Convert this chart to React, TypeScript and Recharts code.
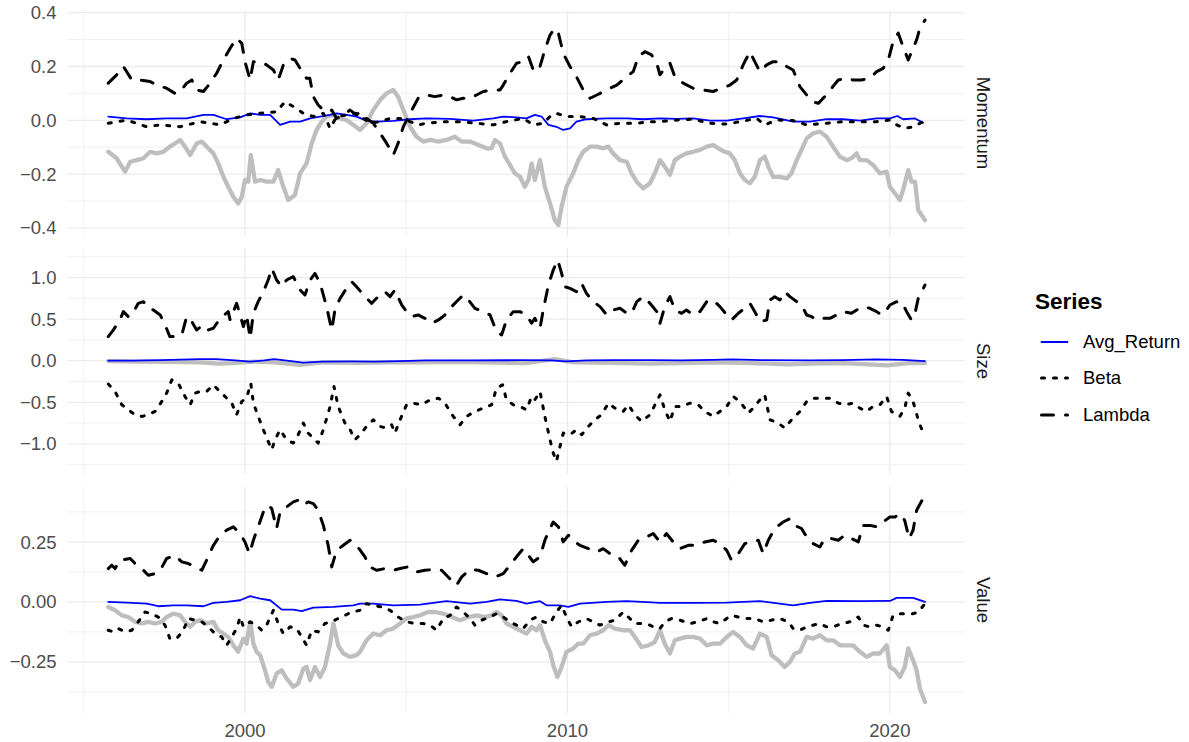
import { LineChart, Line, XAxis, YAxis, CartesianGrid } from "recharts";

type Pt = [number, number];

const X_DOMAIN = [1994.48, 2022.33];
const X_MAJOR = [2000, 2010, 2020];
const X_MINOR = [1995, 2005, 2015];
const SERIES = ["Avg_Return", "Beta", "Lambda"];

// ---- Momentum ----
const MOM_LAMBDA: Pt[] = [
  [1995.76, 0.138], [1996.02, 0.169], [1996.23, 0.2], [1996.49, 0.15], [1996.74, 0.15], [1997.06, 0.144], [1997.26, 0.131],
  [1997.57, 0.119], [1997.83, 0.1], [1997.99, 0.107], [1998.19, 0.138], [1998.35, 0.15], [1998.5, 0.113], [1998.71, 0.107],
  [1998.92, 0.138], [1999.12, 0.175], [1999.33, 0.224], [1999.54, 0.268], [1999.74, 0.305], [1999.9, 0.286], [2000.0, 0.218],
  [2000.16, 0.15], [2000.26, 0.218], [2000.47, 0.218], [2000.67, 0.206], [2000.88, 0.187], [2001.03, 0.15], [2001.19, 0.206],
  [2001.4, 0.23], [2001.55, 0.224], [2001.71, 0.193], [2001.91, 0.156], [2002.01, 0.156], [2002.12, 0.088], [2002.27, 0.057],
  [2002.43, 0.038], [2002.58, 0.032], [2002.69, 0.038], [2002.84, 0.007], [2003.05, 0.02], [2003.26, 0.038], [2003.46, 0.02],
  [2003.57, 0.032], [2003.77, 0.007], [2003.98, -0.011], [2004.19, -0.048], [2004.39, -0.085], [2004.6, -0.129], [2004.75, -0.085],
  [2004.91, -0.024], [2005.12, 0.026], [2005.37, 0.082], [2005.63, 0.094], [2005.89, 0.088], [2006.15, 0.094], [2006.36, 0.088],
  [2006.56, 0.076], [2006.77, 0.082], [2006.98, 0.082], [2007.18, 0.094], [2007.39, 0.107], [2007.65, 0.113], [2007.91, 0.113],
  [2008.01, 0.131], [2008.22, 0.175], [2008.42, 0.212], [2008.63, 0.218], [2008.79, 0.237], [2008.94, 0.187], [2009.04, 0.206],
  [2009.15, 0.2], [2009.3, 0.262], [2009.46, 0.317], [2009.61, 0.342], [2009.72, 0.324], [2009.87, 0.249], [2010.08, 0.2],
  [2010.28, 0.162], [2010.49, 0.113], [2010.7, 0.082], [2010.91, 0.094], [2011.22, 0.113], [2011.53, 0.131], [2011.84, 0.162],
  [2012.04, 0.181], [2012.2, 0.237], [2012.4, 0.255], [2012.61, 0.243], [2012.77, 0.212], [2012.87, 0.169], [2013.07, 0.2],
  [2013.18, 0.212], [2013.33, 0.162], [2013.59, 0.138], [2013.9, 0.119], [2014.21, 0.113], [2014.52, 0.107], [2014.78, 0.119],
  [2015.04, 0.131], [2015.25, 0.15], [2015.45, 0.206], [2015.66, 0.255], [2015.81, 0.218], [2015.97, 0.181], [2016.18, 0.206],
  [2016.38, 0.218], [2016.59, 0.218], [2016.8, 0.2], [2017.0, 0.187], [2017.21, 0.125], [2017.42, 0.094], [2017.62, 0.069],
  [2017.78, 0.063], [2017.98, 0.088], [2018.19, 0.119], [2018.4, 0.15], [2018.66, 0.156], [2018.86, 0.15], [2019.12, 0.15],
  [2019.38, 0.156], [2019.59, 0.181], [2019.79, 0.193], [2019.95, 0.224], [2020.1, 0.292], [2020.26, 0.324], [2020.41, 0.274],
  [2020.57, 0.224], [2020.72, 0.268], [2020.83, 0.299], [2020.93, 0.342], [2021.09, 0.373],
];

const MOM_GREY: Pt[] = [
  [1995.76, -0.117], [1996.02, -0.141], [1996.28, -0.191], [1996.44, -0.154], [1996.64, -0.148], [1996.85, -0.141], [1997.06, -0.117],
  [1997.26, -0.123], [1997.47, -0.117], [1997.67, -0.098], [1997.83, -0.086], [1997.99, -0.073], [1998.14, -0.098], [1998.3, -0.129],
  [1998.5, -0.086], [1998.66, -0.079], [1998.86, -0.104], [1999.02, -0.123], [1999.17, -0.16], [1999.33, -0.21], [1999.48, -0.247],
  [1999.64, -0.284], [1999.79, -0.309], [1999.9, -0.284], [2000.0, -0.222], [2000.1, -0.228], [2000.18, -0.129], [2000.31, -0.228],
  [2000.47, -0.222], [2000.67, -0.228], [2000.88, -0.228], [2001.03, -0.185], [2001.19, -0.247], [2001.34, -0.296], [2001.55, -0.278],
  [2001.71, -0.197], [2001.91, -0.16], [2002.07, -0.086], [2002.22, -0.036], [2002.38, -0.005], [2002.53, 0.014], [2002.74, 0.02],
  [2002.95, 0.007], [2003.15, 0.001], [2003.36, -0.017], [2003.57, -0.036], [2003.77, -0.011], [2003.98, 0.038], [2004.19, 0.076],
  [2004.39, 0.1], [2004.6, 0.113], [2004.75, 0.088], [2004.91, 0.038], [2005.12, -0.024], [2005.32, -0.061], [2005.53, -0.079],
  [2005.74, -0.073], [2006.0, -0.079], [2006.25, -0.073], [2006.51, -0.061], [2006.72, -0.079], [2006.98, -0.079], [2007.24, -0.092],
  [2007.49, -0.104], [2007.65, -0.104], [2007.75, -0.073], [2007.91, -0.086], [2008.06, -0.135], [2008.22, -0.166], [2008.37, -0.197],
  [2008.53, -0.21], [2008.68, -0.247], [2008.79, -0.222], [2008.89, -0.16], [2008.99, -0.222], [2009.15, -0.148], [2009.3, -0.247],
  [2009.46, -0.309], [2009.61, -0.371], [2009.72, -0.389], [2009.82, -0.321], [2009.97, -0.247], [2010.18, -0.197], [2010.34, -0.148],
  [2010.49, -0.117], [2010.7, -0.098], [2010.91, -0.098], [2011.11, -0.104], [2011.27, -0.098], [2011.42, -0.123], [2011.63, -0.148],
  [2011.84, -0.154], [2011.99, -0.197], [2012.15, -0.228], [2012.35, -0.253], [2012.56, -0.234], [2012.71, -0.197], [2012.87, -0.148],
  [2013.02, -0.172], [2013.18, -0.203], [2013.33, -0.148], [2013.49, -0.135], [2013.69, -0.123], [2013.9, -0.117], [2014.11, -0.11],
  [2014.32, -0.098], [2014.52, -0.092], [2014.68, -0.104], [2014.88, -0.117], [2015.04, -0.123], [2015.19, -0.148], [2015.35, -0.197],
  [2015.5, -0.222], [2015.66, -0.234], [2015.81, -0.21], [2015.97, -0.148], [2016.12, -0.135], [2016.23, -0.172], [2016.38, -0.21],
  [2016.59, -0.21], [2016.8, -0.216], [2016.95, -0.197], [2017.11, -0.148], [2017.26, -0.11], [2017.42, -0.067], [2017.62, -0.048],
  [2017.83, -0.042], [2018.04, -0.061], [2018.24, -0.098], [2018.45, -0.135], [2018.66, -0.148], [2018.81, -0.141], [2018.97, -0.123],
  [2019.07, -0.148], [2019.28, -0.148], [2019.48, -0.166], [2019.69, -0.197], [2019.9, -0.191], [2020.0, -0.247], [2020.16, -0.272],
  [2020.31, -0.296], [2020.41, -0.259], [2020.57, -0.185], [2020.67, -0.228], [2020.78, -0.228], [2020.88, -0.334], [2021.09, -0.371],
];

const MOM_BETA: Pt[] = [
  [1995.76, -0.011], [1996.33, 0.001], [1996.95, -0.024], [1997.37, -0.017], [1997.99, -0.024], [1998.61, -0.005], [1999.23, -0.017],
  [1999.64, 0.007], [2000.05, 0.02], [2000.47, 0.026], [2000.98, 0.032], [2001.24, 0.069], [2001.5, 0.051], [2001.81, 0.026],
  [2002.12, 0.014], [2002.43, 0.026], [2002.64, -0.03], [2002.84, 0.014], [2003.15, 0.02], [2003.46, 0.026], [2003.88, -0.011],
  [2004.19, -0.005], [2004.5, 0.007], [2004.81, 0.007], [2005.12, -0.005], [2005.37, -0.017], [2005.63, -0.011], [2006.15, -0.005],
  [2006.67, -0.005], [2007.18, -0.011], [2007.7, -0.017], [2008.11, -0.005], [2008.63, 0.007], [2008.94, -0.017], [2009.25, -0.011],
  [2009.51, 0.02], [2009.66, 0.026], [2009.97, 0.014], [2010.39, 0.014], [2010.8, 0.007], [2011.22, -0.017], [2011.63, -0.011],
  [2012.15, -0.011], [2012.56, -0.005], [2012.87, -0.005], [2013.39, 0.001], [2013.9, 0.004], [2014.42, -0.011], [2014.94, -0.014],
  [2015.35, -0.005], [2015.87, 0.007], [2016.12, -0.017], [2016.49, 0.001], [2017.0, -0.001], [2017.42, -0.017], [2018.04, -0.011],
  [2018.55, -0.005], [2019.07, -0.005], [2019.59, -0.005], [2020.0, 0.001], [2020.21, -0.017], [2020.47, -0.03], [2020.72, -0.024],
  [2021.03, -0.005],
];

const MOM_AVG: Pt[] = [
  [1995.76, 0.014], [1996.33, 0.007], [1996.95, 0.004], [1997.57, 0.007], [1998.19, 0.007], [1998.71, 0.02], [1999.02, 0.02],
  [1999.43, 0.004], [1999.85, 0.011], [2000.16, 0.026], [2000.47, 0.02], [2000.78, 0.02], [2001.09, -0.017], [2001.4, -0.005],
  [2001.71, -0.005], [2002.02, 0.007], [2002.33, 0.014], [2002.64, 0.02], [2002.84, 0.026], [2003.15, 0.02], [2003.46, 0.014],
  [2003.77, -0.001], [2004.08, -0.005], [2004.6, -0.002], [2005.12, 0.004], [2005.63, 0.007], [2006.36, 0.005], [2007.08, -0.001],
  [2007.7, 0.007], [2008.01, 0.014], [2008.42, 0.011], [2008.73, 0.007], [2008.99, 0.02], [2009.2, 0.014], [2009.41, -0.017],
  [2009.66, -0.024], [2009.87, -0.036], [2010.08, -0.03], [2010.28, -0.005], [2010.59, 0.004], [2011.22, 0.007], [2011.84, 0.007],
  [2012.35, 0.004], [2012.87, 0.007], [2013.39, 0.005], [2013.9, 0.007], [2014.42, -0.001], [2014.94, -0.001], [2015.45, 0.007],
  [2015.97, 0.016], [2016.38, 0.011], [2017.0, -0.005], [2017.52, -0.005], [2018.04, 0.004], [2018.55, 0.004], [2019.07, -0.001],
  [2019.59, 0.007], [2020.0, 0.007], [2020.23, 0.016], [2020.41, 0.004], [2020.78, 0.007], [2021.03, -0.009],
];

// ---- Size ----
const SIZE_LAMBDA: Pt[] = [
  [1995.76, 0.29], [1995.92, 0.37], [1996.12, 0.49], [1996.23, 0.59], [1996.38, 0.53], [1996.49, 0.55], [1996.69, 0.69],
  [1996.85, 0.71], [1997.0, 0.63], [1997.16, 0.61], [1997.37, 0.55], [1997.52, 0.43], [1997.67, 0.29], [1997.83, 0.29],
  [1998.04, 0.31], [1998.19, 0.53], [1998.35, 0.47], [1998.5, 0.37], [1998.71, 0.43], [1998.86, 0.37], [1999.02, 0.39],
  [1999.23, 0.51], [1999.48, 0.59], [1999.54, 0.49], [1999.74, 0.69], [1999.85, 0.55], [1999.95, 0.41], [2000.05, 0.55],
  [2000.16, 0.27], [2000.26, 0.57], [2000.41, 0.71], [2000.57, 0.83], [2000.72, 0.97], [2000.83, 1.11], [2000.98, 0.97],
  [2001.14, 0.89], [2001.29, 0.97], [2001.5, 1.01], [2001.71, 0.85], [2001.86, 0.79], [2002.02, 0.97], [2002.17, 1.05],
  [2002.33, 0.93], [2002.53, 0.65], [2002.69, 0.37], [2002.79, 0.61], [2002.95, 0.75], [2003.15, 0.87], [2003.31, 0.95],
  [2003.46, 0.89], [2003.72, 0.77], [2003.93, 0.69], [2004.13, 0.77], [2004.34, 0.83], [2004.5, 0.77], [2004.65, 0.85],
  [2004.86, 0.67], [2005.01, 0.59], [2005.17, 0.53], [2005.37, 0.55], [2005.58, 0.51], [2005.79, 0.45], [2006.0, 0.49],
  [2006.2, 0.55], [2006.41, 0.65], [2006.61, 0.73], [2006.77, 0.79], [2006.93, 0.73], [2007.13, 0.63], [2007.39, 0.59],
  [2007.6, 0.55], [2007.7, 0.45], [2007.8, 0.35], [2007.96, 0.31], [2008.11, 0.49], [2008.32, 0.59], [2008.53, 0.59],
  [2008.73, 0.55], [2008.89, 0.45], [2008.99, 0.51], [2009.15, 0.39], [2009.25, 0.61], [2009.41, 0.91], [2009.56, 1.09],
  [2009.7, 1.21], [2009.82, 1.05], [2009.92, 0.89], [2010.08, 0.87], [2010.28, 0.83], [2010.44, 0.93], [2010.59, 0.81],
  [2010.8, 0.71], [2011.01, 0.65], [2011.22, 0.55], [2011.42, 0.61], [2011.63, 0.63], [2011.84, 0.57], [2011.99, 0.57],
  [2012.15, 0.71], [2012.35, 0.77], [2012.56, 0.69], [2012.77, 0.59], [2012.87, 0.45], [2013.02, 0.65], [2013.18, 0.77],
  [2013.33, 0.61], [2013.54, 0.57], [2013.69, 0.61], [2013.9, 0.55], [2014.11, 0.59], [2014.32, 0.71], [2014.52, 0.73],
  [2014.73, 0.65], [2014.94, 0.55], [2015.09, 0.49], [2015.3, 0.57], [2015.56, 0.65], [2015.66, 0.69], [2015.81, 0.59],
  [2015.97, 0.47], [2016.18, 0.49], [2016.28, 0.73], [2016.43, 0.77], [2016.59, 0.73], [2016.74, 0.83], [2016.9, 0.77],
  [2017.11, 0.71], [2017.26, 0.67], [2017.42, 0.55], [2017.57, 0.53], [2017.73, 0.49], [2017.93, 0.51], [2018.14, 0.51],
  [2018.35, 0.55], [2018.55, 0.59], [2018.81, 0.57], [2018.97, 0.61], [2019.17, 0.65], [2019.38, 0.63], [2019.59, 0.59],
  [2019.74, 0.55], [2019.9, 0.61], [2020.0, 0.67], [2020.21, 0.71], [2020.36, 0.71], [2020.52, 0.59], [2020.67, 0.49],
  [2020.78, 0.57], [2020.88, 0.75], [2021.09, 0.91],
];

const SIZE_BETA: Pt[] = [
  [1995.76, -0.28], [1995.97, -0.37], [1996.18, -0.53], [1996.38, -0.59], [1996.59, -0.65], [1996.8, -0.67], [1997.0, -0.65],
  [1997.21, -0.61], [1997.42, -0.49], [1997.57, -0.39], [1997.73, -0.23], [1997.93, -0.27], [1998.14, -0.43], [1998.3, -0.53],
  [1998.45, -0.39], [1998.61, -0.37], [1998.81, -0.37], [1999.02, -0.29], [1999.17, -0.35], [1999.38, -0.43], [1999.59, -0.51],
  [1999.74, -0.65], [1999.9, -0.49], [2000.05, -0.45], [2000.18, -0.27], [2000.26, -0.51], [2000.41, -0.67], [2000.57, -0.83],
  [2000.72, -0.97], [2000.83, -1.07], [2000.93, -0.95], [2001.09, -0.83], [2001.29, -0.95], [2001.5, -0.99], [2001.65, -0.89],
  [2001.81, -0.75], [2001.96, -0.87], [2002.12, -0.93], [2002.27, -0.99], [2002.43, -0.83], [2002.64, -0.55], [2002.76, -0.31],
  [2002.89, -0.55], [2003.1, -0.75], [2003.26, -0.83], [2003.41, -0.95], [2003.57, -0.89], [2003.77, -0.79], [2003.98, -0.71],
  [2004.19, -0.79], [2004.39, -0.81], [2004.55, -0.77], [2004.65, -0.87], [2004.81, -0.71], [2005.01, -0.53], [2005.22, -0.51],
  [2005.48, -0.53], [2005.74, -0.47], [2006.0, -0.45], [2006.2, -0.51], [2006.46, -0.67], [2006.67, -0.77], [2006.87, -0.67],
  [2007.13, -0.61], [2007.39, -0.57], [2007.65, -0.53], [2007.8, -0.33], [2007.99, -0.29], [2008.11, -0.47], [2008.32, -0.53],
  [2008.53, -0.55], [2008.73, -0.59], [2008.89, -0.43], [2008.99, -0.47], [2009.15, -0.37], [2009.3, -0.67], [2009.46, -0.95],
  [2009.56, -1.11], [2009.66, -1.21], [2009.77, -1.03], [2009.87, -0.87], [2010.08, -0.89], [2010.28, -0.83], [2010.44, -0.89],
  [2010.65, -0.79], [2010.85, -0.71], [2011.06, -0.65], [2011.27, -0.51], [2011.47, -0.57], [2011.73, -0.61], [2011.89, -0.53],
  [2012.09, -0.65], [2012.3, -0.73], [2012.56, -0.65], [2012.87, -0.41], [2013.02, -0.59], [2013.18, -0.73], [2013.33, -0.55],
  [2013.54, -0.55], [2013.8, -0.51], [2014.06, -0.53], [2014.26, -0.61], [2014.52, -0.67], [2014.73, -0.61], [2014.94, -0.55],
  [2015.14, -0.43], [2015.35, -0.49], [2015.61, -0.63], [2015.76, -0.57], [2015.97, -0.47], [2016.12, -0.41], [2016.28, -0.71],
  [2016.54, -0.75], [2016.74, -0.81], [2016.95, -0.71], [2017.21, -0.61], [2017.42, -0.49], [2017.62, -0.45], [2017.88, -0.45],
  [2018.14, -0.45], [2018.4, -0.51], [2018.6, -0.53], [2018.86, -0.51], [2019.07, -0.57], [2019.28, -0.61], [2019.48, -0.55],
  [2019.69, -0.53], [2019.9, -0.43], [2020.05, -0.61], [2020.31, -0.67], [2020.46, -0.57], [2020.57, -0.39], [2020.72, -0.49],
  [2020.88, -0.71], [2021.03, -0.87],
];

const SIZE_AVG: Pt[] = [
  [1995.76, 0.0], [1996.5, 0.002], [1997.4, 0.006], [1998.6, 0.02], [1999.1, 0.018], [1999.7, 0.005], [2000.15, -0.012],
  [2000.6, 0.004], [2000.9, 0.02], [2001.3, 0.002], [2001.8, -0.022], [2002.4, -0.01], [2003.3, -0.008], [2004.0, -0.01],
  [2004.8, -0.006], [2005.6, 0.004], [2007.0, 0.004], [2008.5, 0.006], [2009.5, 0.004], [2009.95, -0.008], [2010.6, 0.004],
  [2011.5, 0.008], [2012.5, 0.008], [2013.5, 0.005], [2014.5, 0.01], [2015.1, 0.016], [2016.0, 0.008], [2017.5, 0.004],
  [2018.5, 0.008], [2019.6, 0.016], [2020.4, 0.01], [2021.09, -0.004],
];

const SIZE_GREY: Pt[] = [
  [1995.76, -0.004], [1996.6, -0.01], [1997.6, -0.015], [1998.6, -0.02], [1999.2, -0.035], [1999.6, -0.03], [2000.3, -0.01],
  [2000.9, -0.02], [2001.7, -0.05], [2002.4, -0.02], [2003.5, -0.025], [2004.5, -0.02], [2005.5, -0.02], [2006.5, -0.015],
  [2007.5, -0.02], [2008.7, -0.03], [2009.6, 0.02], [2010.2, -0.02], [2011.5, -0.025], [2012.5, -0.035], [2013.5, -0.03],
  [2014.5, -0.02], [2015.5, -0.025], [2016.8, -0.045], [2017.6, -0.035], [2018.6, -0.03], [2019.9, -0.055], [2020.6, -0.03],
  [2021.09, -0.03],
];

// ---- Value ----
const VAL_LAMBDA: Pt[] = [
  [1995.76, 0.139], [1995.87, 0.153], [1995.97, 0.139], [1996.12, 0.174], [1996.44, 0.181], [1996.64, 0.153], [1996.85, 0.132],
  [1997.0, 0.111], [1997.21, 0.118], [1997.37, 0.132], [1997.57, 0.181], [1997.83, 0.194], [1998.04, 0.167], [1998.24, 0.16],
  [1998.45, 0.146], [1998.66, 0.132], [1998.81, 0.174], [1999.02, 0.236], [1999.23, 0.278], [1999.43, 0.299], [1999.64, 0.313],
  [1999.85, 0.285], [2000.0, 0.25], [2000.14, 0.201], [2000.26, 0.257], [2000.41, 0.313], [2000.57, 0.375], [2000.72, 0.403],
  [2000.83, 0.389], [2000.98, 0.306], [2001.09, 0.375], [2001.29, 0.396], [2001.5, 0.417], [2001.65, 0.424], [2001.81, 0.403],
  [2001.96, 0.417], [2002.12, 0.41], [2002.27, 0.382], [2002.43, 0.319], [2002.58, 0.236], [2002.69, 0.146], [2002.84, 0.215],
  [2003.05, 0.236], [2003.26, 0.257], [2003.46, 0.236], [2003.72, 0.188], [2003.88, 0.146], [2004.08, 0.132], [2004.34, 0.139],
  [2004.6, 0.132], [2004.81, 0.139], [2005.06, 0.146], [2005.32, 0.125], [2005.58, 0.132], [2005.84, 0.135], [2006.1, 0.132],
  [2006.3, 0.104], [2006.56, 0.069], [2006.72, 0.104], [2006.98, 0.135], [2007.24, 0.132], [2007.49, 0.118], [2007.75, 0.104],
  [2008.01, 0.118], [2008.22, 0.153], [2008.42, 0.188], [2008.63, 0.222], [2008.79, 0.194], [2008.94, 0.167], [2009.15, 0.188],
  [2009.3, 0.257], [2009.46, 0.306], [2009.56, 0.333], [2009.72, 0.313], [2009.87, 0.25], [2010.03, 0.278], [2010.23, 0.25],
  [2010.39, 0.236], [2010.65, 0.222], [2010.91, 0.208], [2011.11, 0.222], [2011.32, 0.201], [2011.58, 0.188], [2011.78, 0.153],
  [2011.99, 0.215], [2012.2, 0.257], [2012.46, 0.271], [2012.66, 0.285], [2012.87, 0.25], [2013.07, 0.285], [2013.28, 0.25],
  [2013.49, 0.222], [2013.75, 0.236], [2014.01, 0.236], [2014.26, 0.25], [2014.52, 0.257], [2014.73, 0.243], [2014.94, 0.215],
  [2015.09, 0.174], [2015.3, 0.201], [2015.5, 0.243], [2015.71, 0.25], [2015.92, 0.257], [2016.07, 0.201], [2016.23, 0.257],
  [2016.43, 0.306], [2016.69, 0.333], [2016.9, 0.347], [2017.05, 0.319], [2017.26, 0.306], [2017.42, 0.271], [2017.62, 0.243],
  [2017.83, 0.229], [2017.98, 0.264], [2018.19, 0.264], [2018.4, 0.257], [2018.6, 0.278], [2018.81, 0.264], [2019.02, 0.25],
  [2019.17, 0.319], [2019.38, 0.319], [2019.59, 0.313], [2019.79, 0.333], [2020.0, 0.354], [2020.16, 0.354], [2020.31, 0.368],
  [2020.46, 0.34], [2020.6, 0.264], [2020.72, 0.299], [2020.83, 0.382], [2021.03, 0.431],
];

const VAL_BETA: Pt[] = [
  [1995.76, -0.118], [1995.92, -0.125], [1996.07, -0.111], [1996.28, -0.125], [1996.49, -0.118], [1996.69, -0.083], [1996.9, -0.042],
  [1997.11, -0.049], [1997.31, -0.063], [1997.52, -0.097], [1997.67, -0.153], [1997.88, -0.153], [1998.09, -0.118], [1998.24, -0.069],
  [1998.45, -0.076], [1998.66, -0.083], [1998.86, -0.104], [1999.07, -0.132], [1999.28, -0.146], [1999.43, -0.181], [1999.59, -0.146],
  [1999.74, -0.111], [1999.85, -0.063], [1999.95, -0.104], [2000.16, -0.083], [2000.36, -0.097], [2000.52, -0.118], [2000.67, -0.097],
  [2000.88, -0.035], [2001.03, -0.09], [2001.19, -0.132], [2001.4, -0.104], [2001.6, -0.111], [2001.76, -0.146], [2001.91, -0.181],
  [2002.07, -0.118], [2002.27, -0.125], [2002.48, -0.09], [2002.69, -0.083], [2002.89, -0.069], [2003.1, -0.056], [2003.31, -0.042],
  [2003.57, -0.035], [2003.77, -0.007], [2003.98, -0.014], [2004.24, -0.021], [2004.5, -0.035], [2004.75, -0.063], [2005.01, -0.083],
  [2005.27, -0.09], [2005.53, -0.09], [2005.74, -0.097], [2005.94, -0.118], [2006.15, -0.069], [2006.36, -0.056], [2006.56, -0.021],
  [2006.77, -0.042], [2006.98, -0.069], [2007.13, -0.097], [2007.34, -0.076], [2007.6, -0.063], [2007.8, -0.049], [2008.01, -0.063],
  [2008.22, -0.083], [2008.42, -0.097], [2008.63, -0.111], [2008.84, -0.076], [2009.04, -0.063], [2009.25, -0.083], [2009.46, -0.09],
  [2009.66, -0.042], [2009.82, -0.014], [2009.97, -0.063], [2010.13, -0.104], [2010.34, -0.083], [2010.59, -0.069], [2010.8, -0.083],
  [2011.01, -0.097], [2011.27, -0.083], [2011.47, -0.076], [2011.73, -0.042], [2011.89, -0.063], [2012.09, -0.09], [2012.35, -0.09],
  [2012.56, -0.097], [2012.77, -0.111], [2012.87, -0.111], [2013.02, -0.083], [2013.23, -0.069], [2013.49, -0.076], [2013.8, -0.09],
  [2014.06, -0.083], [2014.32, -0.069], [2014.52, -0.083], [2014.73, -0.09], [2014.94, -0.069], [2015.09, -0.056], [2015.3, -0.063],
  [2015.56, -0.069], [2015.81, -0.069], [2016.07, -0.083], [2016.33, -0.076], [2016.59, -0.069], [2016.85, -0.083], [2017.0, -0.111],
  [2017.21, -0.118], [2017.42, -0.104], [2017.62, -0.097], [2017.83, -0.09], [2018.04, -0.104], [2018.24, -0.104], [2018.5, -0.09],
  [2018.76, -0.083], [2019.02, -0.063], [2019.17, -0.097], [2019.38, -0.104], [2019.59, -0.097], [2019.79, -0.104], [2019.95, -0.118],
  [2020.1, -0.056], [2020.31, -0.049], [2020.52, -0.049], [2020.72, -0.049], [2020.88, -0.042], [2021.05, -0.014],
];

const VAL_GREY: Pt[] = [
  [1995.76, -0.021], [1995.97, -0.035], [1996.18, -0.056], [1996.38, -0.063], [1996.59, -0.083], [1996.8, -0.09], [1997.0, -0.083],
  [1997.21, -0.09], [1997.42, -0.083], [1997.57, -0.063], [1997.78, -0.049], [1997.99, -0.056], [1998.14, -0.083], [1998.3, -0.104],
  [1998.45, -0.083], [1998.61, -0.076], [1998.81, -0.09], [1999.02, -0.083], [1999.17, -0.118], [1999.33, -0.132], [1999.48, -0.146],
  [1999.64, -0.181], [1999.79, -0.208], [1999.95, -0.153], [2000.05, -0.174], [2000.16, -0.083], [2000.26, -0.174], [2000.36, -0.208],
  [2000.47, -0.222], [2000.62, -0.285], [2000.72, -0.333], [2000.83, -0.354], [2000.98, -0.299], [2001.14, -0.285], [2001.29, -0.319],
  [2001.5, -0.354], [2001.65, -0.34], [2001.81, -0.278], [2001.91, -0.271], [2002.02, -0.326], [2002.17, -0.271], [2002.33, -0.313],
  [2002.48, -0.271], [2002.64, -0.174], [2002.74, -0.09], [2002.89, -0.181], [2003.05, -0.215], [2003.26, -0.229], [2003.46, -0.222],
  [2003.57, -0.208], [2003.77, -0.16], [2003.98, -0.132], [2004.19, -0.139], [2004.39, -0.118], [2004.6, -0.111], [2004.81, -0.09],
  [2005.01, -0.069], [2005.22, -0.063], [2005.43, -0.056], [2005.68, -0.042], [2005.89, -0.042], [2006.15, -0.049], [2006.41, -0.063],
  [2006.67, -0.076], [2006.93, -0.063], [2007.18, -0.056], [2007.44, -0.063], [2007.65, -0.056], [2007.8, -0.042], [2007.96, -0.056],
  [2008.11, -0.09], [2008.32, -0.104], [2008.53, -0.118], [2008.73, -0.132], [2008.89, -0.104], [2009.04, -0.118], [2009.15, -0.097],
  [2009.3, -0.16], [2009.46, -0.208], [2009.56, -0.264], [2009.69, -0.313], [2009.82, -0.271], [2009.97, -0.208], [2010.18, -0.194],
  [2010.34, -0.174], [2010.49, -0.174], [2010.7, -0.139], [2010.91, -0.132], [2011.11, -0.118], [2011.27, -0.097], [2011.47, -0.111],
  [2011.73, -0.118], [2011.94, -0.118], [2012.09, -0.146], [2012.3, -0.188], [2012.51, -0.181], [2012.71, -0.167], [2012.87, -0.118],
  [2013.02, -0.174], [2013.18, -0.215], [2013.33, -0.16], [2013.49, -0.153], [2013.69, -0.146], [2013.9, -0.146], [2014.11, -0.153],
  [2014.32, -0.181], [2014.52, -0.174], [2014.73, -0.174], [2014.94, -0.146], [2015.14, -0.125], [2015.35, -0.146], [2015.56, -0.181],
  [2015.76, -0.194], [2015.97, -0.132], [2016.18, -0.146], [2016.33, -0.222], [2016.54, -0.243], [2016.74, -0.271], [2016.9, -0.25],
  [2017.05, -0.215], [2017.21, -0.208], [2017.42, -0.146], [2017.62, -0.153], [2017.83, -0.139], [2018.04, -0.16], [2018.24, -0.16],
  [2018.45, -0.181], [2018.66, -0.181], [2018.86, -0.181], [2019.07, -0.208], [2019.28, -0.229], [2019.48, -0.215], [2019.69, -0.215],
  [2019.9, -0.181], [2020.0, -0.271], [2020.16, -0.285], [2020.31, -0.313], [2020.46, -0.271], [2020.57, -0.194], [2020.72, -0.243],
  [2020.83, -0.285], [2020.93, -0.361], [2021.09, -0.417],
];

const VAL_AVG: Pt[] = [
  [1995.76, 0.0], [1996.33, -0.003], [1996.95, -0.007], [1997.31, -0.018], [1997.78, -0.014], [1998.19, -0.014], [1998.71, -0.018],
  [1999.02, -0.004], [1999.43, 0.0], [1999.85, 0.007], [2000.16, 0.024], [2000.47, 0.014], [2000.78, 0.007], [2001.14, -0.032],
  [2001.5, -0.032], [2001.76, -0.038], [2002.12, -0.024], [2002.74, -0.021], [2003.36, -0.014], [2003.57, -0.007], [2003.98, -0.007],
  [2004.6, -0.014], [2005.43, -0.011], [2006.25, 0.003], [2006.98, -0.007], [2007.49, 0.0], [2007.91, 0.011], [2008.42, 0.004],
  [2008.73, -0.007], [2009.15, 0.003], [2009.35, -0.014], [2009.77, -0.014], [2010.03, -0.021], [2010.39, -0.007], [2011.22, 0.0],
  [2011.84, 0.003], [2012.46, -0.001], [2012.87, -0.004], [2013.9, -0.004], [2014.94, -0.003], [2015.97, 0.003], [2017.0, -0.014],
  [2017.52, -0.004], [2018.04, 0.004], [2019.07, 0.003], [2020.0, 0.004], [2020.21, 0.017], [2020.72, 0.017], [2021.09, 0.0],
];

const FONT = '"Liberation Sans", Arial, Helvetica, sans-serif';
const PLOT_LEFT = 67;
const PLOT_RIGHT = 965;
const PANEL_H = 226;
const X_AXIS_H = 40;
const PAD = 12; // room so the outermost tick labels are not clipped

const LINE_STYLE: Record<string, any> = {
  grey: { stroke: "#bebebe", strokeWidth: 4.3 },
  Avg_Return: { stroke: "#0000ff", strokeWidth: 1.8 },
  Beta: { stroke: "#000000", strokeWidth: 3, strokeDasharray: "3 9" },
  Lambda: { stroke: "#000000", strokeWidth: 3, strokeDasharray: "12 12" },
};

const PANELS = [
  {
    name: "Momentum", top: 10, domain: [-0.43, 0.41], major: [-0.4, -0.2, 0, 0.2, 0.4], minor: [-0.3, -0.1, 0.1, 0.3], digits: 1,
    grey: MOM_GREY, avg: MOM_AVG, beta: MOM_BETA, lambda: MOM_LAMBDA,
  },
  {
    name: "Size", top: 248, domain: [-1.362, 1.355], major: [-1, -0.5, 0, 0.5, 1], minor: [-1.25, -0.75, -0.25, 0.25, 0.75, 1.25], digits: 1,
    grey: SIZE_GREY, avg: SIZE_AVG, beta: SIZE_BETA, lambda: SIZE_LAMBDA,
  },
  {
    name: "Value", top: 487, domain: [-0.463, 0.479], major: [-0.25, 0, 0.25], minor: [-0.375, -0.125, 0.125, 0.375], digits: 2,
    grey: VAL_GREY, avg: VAL_AVG, beta: VAL_BETA, lambda: VAL_LAMBDA,
  },
];

const toPoints = (arr: Pt[]) => arr.map(([t, v]) => ({ t, v }));
const fmt = (d: number) => (v: number) => {
  const s = Math.abs(v).toFixed(d);
  return v < 0 ? "\u2212" + s : s;
};

function Panel({ p, last }: { p: (typeof PANELS)[number]; last: boolean }) {
  const lines = [
    { key: "grey", data: p.grey },
    { key: "Avg_Return", data: p.avg },
    { key: "Beta", data: p.beta },
    { key: "Lambda", data: p.lambda },
  ];
  const bottom = last ? 0 : PAD;
  return (
    <div style={{ position: "absolute", left: 0, top: p.top - PAD }}>
      <LineChart
        width={PLOT_RIGHT}
        height={PAD + PANEL_H + (last ? X_AXIS_H : PAD)}
        margin={{ top: PAD, right: 0, bottom, left: 0 }}
      >
        <CartesianGrid stroke="#ebebeb" strokeWidth={0.7} horizontalValues={p.minor} verticalValues={X_MINOR} />
        <CartesianGrid stroke="#ebebeb" strokeWidth={1.3} horizontalValues={p.major} verticalValues={X_MAJOR} />
        <XAxis
          dataKey="t" type="number" domain={X_DOMAIN} ticks={X_MAJOR} allowDataOverflow interval={0}
          hide={!last} height={X_AXIS_H} tickLine={false} axisLine={false} tickSize={0} tickMargin={11}
          tick={{ fill: "#4d4d4d", fontSize: 18.5 }} tickFormatter={(v: number) => String(v)}
        />
        <YAxis
          type="number" domain={p.domain} ticks={p.major} allowDataOverflow interval={0}
          width={PLOT_LEFT} tickLine={false} axisLine={false} tickSize={0} tickMargin={10.5}
          tick={{ fill: "#4d4d4d", fontSize: 18.5 }} tickFormatter={fmt(p.digits)}
        />
        {lines.map((l) => (
          <Line
            key={l.key} data={toPoints(l.data)} dataKey="v" name={l.key} type="linear"
            dot={false} activeDot={false} isAnimationActive={false}
            strokeLinecap="round" strokeLinejoin="round" {...LINE_STYLE[l.key]}
          />
        ))}
      </LineChart>
      <div
        style={{
          position: "absolute", left: 983, top: PAD + PANEL_H / 2, transform: "translate(-50%, -50%) rotate(90deg)",
          fontSize: 18.5, color: "#1a1a1a", whiteSpace: "nowrap", lineHeight: 1,
        }}
      >
        {p.name}
      </div>
    </div>
  );
}

function LegendBox() {
  const rows = [342, 378, 415];
  return (
    <div>
      <div style={{ position: "absolute", left: 1035, top: 302, transform: "translateY(-50%)", fontSize: 22.5, fontWeight: "bold", color: "#000", lineHeight: 1 }}>
        Series
      </div>
      {SERIES.map((s, i) => (
        <div key={s} style={{ position: "absolute", left: 1040, top: rows[i] - 10, height: 20, display: "flex", alignItems: "center" }}>
          <svg width={29} height={20} style={{ display: "block" }}>
            <line x1={1.5} y1={10} x2={27.5} y2={10} strokeLinecap="round" {...LINE_STYLE[s]} />
          </svg>
          <span style={{ marginLeft: 14, fontSize: 18.5, color: "#000", lineHeight: 1, whiteSpace: "nowrap" }}>{s}</span>
        </div>
      ))}
    </div>
  );
}

export default function App() {
  return (
    <div style={{ position: "absolute", left: 0, top: 0, width: 1189, height: 742, background: "#fff", fontFamily: FONT, overflow: "hidden" }}>
      {PANELS.map((p, i) => (
        <Panel key={p.name} p={p} last={i === PANELS.length - 1} />
      ))}
      <LegendBox />
    </div>
  );
}
